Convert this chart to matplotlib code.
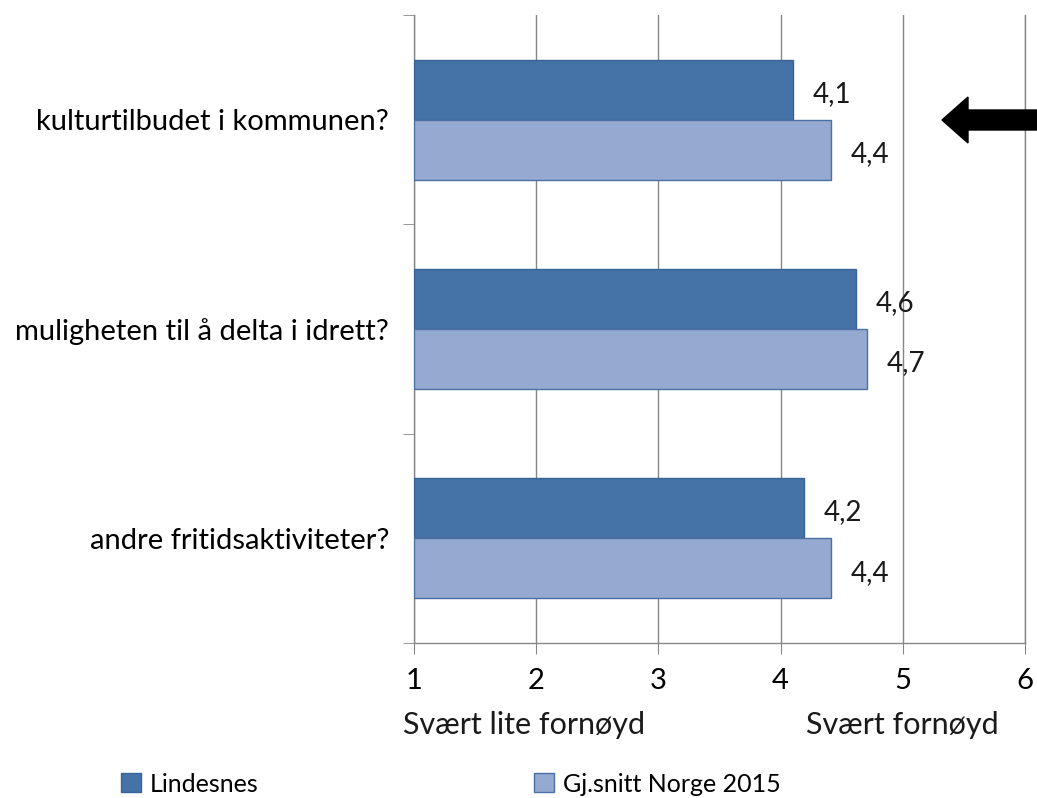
import matplotlib
matplotlib.use('Agg')
import matplotlib.pyplot as plt
import matplotlib.patches as mpatches
from matplotlib.transforms import IdentityTransform
import numpy as np

plt.rcParams['font.family'] = ['Lato', 'DejaVu Sans']

categories = ['kulturtilbudet i kommunen?', 'muligheten til å delta i idrett?', 'andre fritidsaktiviteter?']
lindesnes = [4.1, 4.62, 4.19]
norge = [4.41, 4.71, 4.41]
lindesnes_labels = ['4,1', '4,6', '4,2']
norge_labels = ['4,4', '4,7', '4,4']
series_names = ['Lindesnes', 'Gj.snitt Norge 2015']
xticks = [1, 2, 3, 4, 5, 6]

c_dark = '#4573a7'
c_light = '#95a9d1'
grid_c = '#878787'

fig = plt.figure(figsize=(10.37, 7.98), dpi=100)
ax = fig.add_axes([414 / 1037, 155 / 798, 611 / 1037, 628 / 798])

y = np.arange(len(categories))
h = 0.287
b1 = ax.barh(y - h / 2, np.array(lindesnes) - 1, left=1, height=h, color=c_dark,
             edgecolor='#3a6396', linewidth=1, label=series_names[0], zorder=3)
b2 = ax.barh(y + h / 2, np.array(norge) - 1, left=1, height=h, color=c_light,
             edgecolor='#4a70a6', linewidth=1, label=series_names[1], zorder=3)

for i in range(len(categories)):
    ax.text(lindesnes[i] + 0.16, y[i] - h / 2 + 0.02, lindesnes_labels[i], va='center',
            ha='left', fontsize=20, color='#1a1a1a')
    ax.text(norge[i] + 0.16, y[i] + h / 2 + 0.02, norge_labels[i], va='center',
            ha='left', fontsize=20, color='#1a1a1a')

ax.set_xlim(1, 6)
ax.set_ylim(2.5, -0.5)
ax.set_xticks(xticks)
ax.set_xticklabels([str(t) for t in xticks], fontsize=21)
ax.set_yticks(y)
ax.set_yticklabels(categories, fontsize=21)
ax.set_yticks([-0.5, 0.5, 1.5, 2.5], minor=True)
ax.tick_params(axis='y', which='major', length=0, pad=18)
ax.tick_params(axis='y', which='minor', length=8, color=grid_c, direction='out')
ax.tick_params(axis='x', length=8, color=grid_c, direction='out', pad=10)
ax.xaxis.grid(True, color=grid_c, linewidth=1, zorder=0)
ax.set_axisbelow(True)
ax.spines['top'].set_visible(False)
for s in ['left', 'bottom', 'right']:
    ax.spines[s].set_color(grid_c)
    ax.spines[s].set_linewidth(1)

ax.text(-0.018, -0.13, 'Svært lite fornøyd', transform=ax.transAxes, fontsize=22,
        ha='left', va='center', color='#1a1a1a')
ax.text(0.957, -0.13, 'Svært fornøyd', transform=ax.transAxes, fontsize=22,
        ha='right', va='center', color='#1a1a1a')

fig.legend(handles=[b1, b2], labels=series_names, ncol=2, loc='center left',
           bbox_to_anchor=(98 / 1037, 14 / 798), frameon=False, fontsize=18,
           handlelength=0.8, handleheight=0.8, handletextpad=0.35, columnspacing=11.05)

# black arrow pointing left
arrow = mpatches.FancyArrow(1037, 798 - 120, -95, 0, width=20, head_width=46,
                            head_length=26, length_includes_head=True,
                            color='black', transform=IdentityTransform())
fig.patches.append(arrow)

fig.savefig('out.png', dpi=100)
